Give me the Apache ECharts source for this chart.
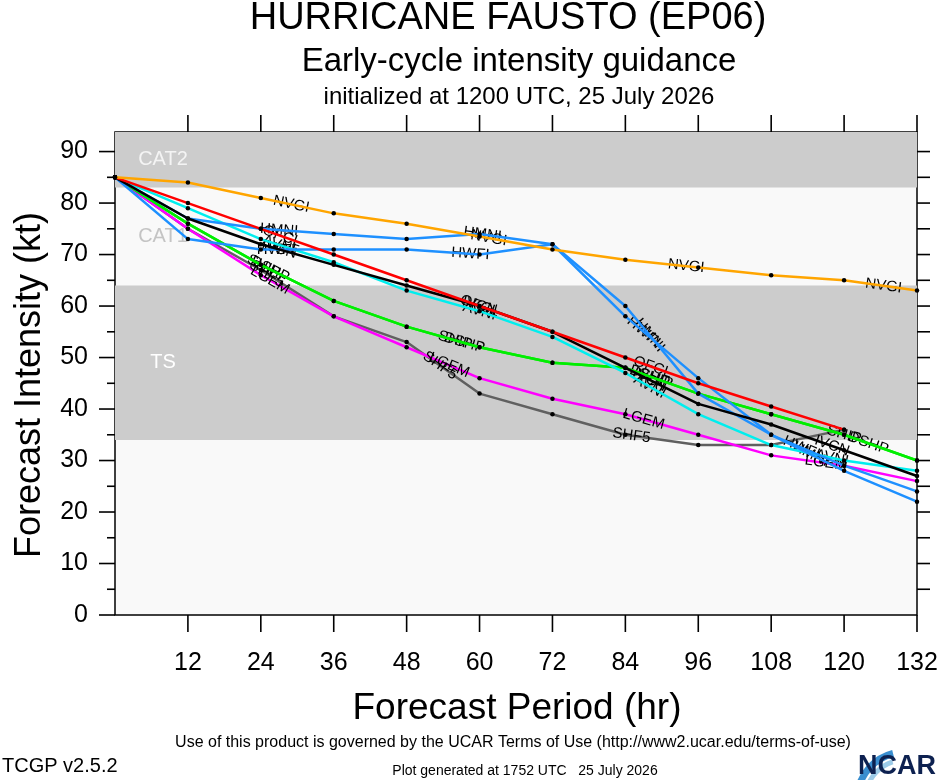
<!DOCTYPE html>
<html>
<head>
<meta charset="utf-8">
<script src="https://cdn.jsdelivr.net/npm/echarts@6/dist/echarts.min.js"></script>
<style>
html,body{margin:0;padding:0;background:#fff;}
#c{width:940px;height:780px;}
</style>
</head>
<body>
<div id="c"></div>
<script>
// ---- data ----
const hours = [0, 12, 24, 36, 48, 60, 72, 84, 96, 108, 120, 132];
const xTickValues = [12, 24, 36, 48, 60, 72, 84, 96, 108, 120, 132];
const yTickValues = [0, 10, 20, 30, 40, 50, 60, 70, 80, 90];
const yMinorValues = [5, 15, 25, 35, 45, 55, 65, 75, 85];
const NVGI = [85, 84, 81, 78, 76, 73.5, 71, 69, 67.5, 66, 65, 63];
const OFCL = [85, 80, 75, 70, 65, 60, 55, 50, 45, 40.5, 36, null];
const IVCN = [85, 77, 72, 68, 64, 60, 55, 48, 41, 37, 32, 27];
const AVNI = [85, 79, 73, 68.5, 63, 59, 54, 47, 39, 33, 30, 28];
const HWFI = [85, 73, 71, 71, 71, 70, 72, 58, 46, 35, 29, 24];
const HMNI = [85, 77, 75, 74, 73, 74, 72, 60, 43, 35, 28, 22];
const DSHP = [85, 76, 68, 61, 56, 52, 49, 48, 43, 39, 35, 30];
const SHIP = [85, 76, 68, 61, 56, 52, 49, 48, 43, 39, 35, 30];
const LGEM = [85, 75, 66, 58, 52, 46, 42, 39, 35, 31, 29, 26];
const SHF5 = [85, 75, 67, 58, 53, 43, 39, 35, 33, 33, 36, null];
const bands = [
  {from: 34, to: 64, name: 'TS', fill: '#cccccc', text: '#ffffff'},
  {from: 64, to: 83, name: 'CAT1', fill: 'rgba(0,0,0,0)', text: '#c4c4c4'},
  {from: 83, to: 'top', name: 'CAT2', fill: '#cccccc', text: '#f4f4f4'}
];

// ---- styling / layout ----
const YMAX = 93.8;
const FONT = '"Liberation Sans", Arial, sans-serif';
const models = [
  {name: 'SHF5', data: SHF5, color: '#606060', labelAt: [25, 53.5, 85]},
  {name: 'LGEM', data: LGEM, color: '#ff00ff', labelAt: [25.5, 55, 87, 117]},
  {name: 'SHIP', data: SHIP, color: '#00ee00', labelAt: [24.5, 56, 89, 120]},
  {name: 'DSHP', data: DSHP, color: '#00ee00', labelAt: [25.5, 57.5, 88, 124]},
  {name: 'AVNI', data: AVNI, color: '#00eeee', labelAt: [27, 60, 88, 118]},
  {name: 'HWFI', data: HWFI, color: '#1e90ff', labelAt: [26.5, 58.5, 87, 113]},
  {name: 'HMNI', data: HMNI, color: '#1e90ff', labelAt: [27, 60.5, 88, 114.5]},
  {name: 'IVCN', data: IVCN, color: '#000000', labelAt: [27, 60, 88, 118]},
  {name: 'OFCL', data: OFCL, color: '#ff0000', labelAt: [27.5, 60, 88.5]},
  {name: 'NVGI', data: NVGI, color: '#ffa500', labelAt: [29, 61.5, 94, 126.5]}
];

const chart = echarts.init(document.getElementById('c'), null, {renderer: 'canvas'});

function pts(arr) {
  const out = [];
  arr.forEach((v, i) => { if (v !== null) out.push([hours[i], v]); });
  return out;
}

const series = models.map((m, idx) => {
  const s = {
    id: 's' + m.name,
    type: 'line',
    name: m.name,
    data: pts(m.data),
    xAxisIndex: 0,
    yAxisIndex: 0,
    symbol: 'circle',
    symbolSize: 4.5,
    showSymbol: true,
    itemStyle: {color: '#000'},
    lineStyle: {color: m.color, width: 2.5},
    z: 3 + idx,
    animation: false,
    silent: true
  };
  if (idx === 0) {
    s.markArea = {
      silent: true,
      z: 1,
      data: bands.map(b => [
        {yAxis: b.from, itemStyle: {color: b.fill},
         label: {show: true, formatter: b.name, position: [48, '50%'], align: 'center', verticalAlign: 'middle',
                 color: b.text, fontSize: 20, fontFamily: FONT}},
        {yAxis: b.to === 'top' ? YMAX : b.to}
      ])
    };
  }
  return s;
});

const texts = [
  {id: 't1', type: 'text', x: 508, y: 19, style: {text: 'HURRICANE FAUSTO (EP06)', font: '38px ' + FONT, fill: '#000', align: 'center', verticalAlign: 'middle'}},
  {id: 't2', type: 'text', x: 519, y: 62, style: {text: 'Early-cycle intensity guidance', font: '33px ' + FONT, fill: '#000', align: 'center', verticalAlign: 'middle'}},
  {id: 't3', type: 'text', x: 519, y: 97, style: {text: 'initialized at 1200 UTC, 25 July 2026', font: '24px ' + FONT, fill: '#000', align: 'center', verticalAlign: 'middle'}},
  {id: 't4', type: 'text', x: 30, y: 385, rotation: Math.PI / 2, style: {text: 'Forecast Intensity (kt)', font: '36px ' + FONT, fill: '#000', align: 'center', verticalAlign: 'middle'}},
  {id: 't5', type: 'text', x: 517, y: 709, style: {text: 'Forecast Period (hr)', font: '37px ' + FONT, fill: '#000', align: 'center', verticalAlign: 'middle'}},
  {id: 't6', type: 'text', x: 513, y: 743, style: {text: 'Use of this product is governed by the UCAR Terms of Use (http://www2.ucar.edu/terms-of-use)', font: '16px ' + FONT, fill: '#000', align: 'center', verticalAlign: 'middle'}},
  {id: 't7', type: 'text', x: 2, y: 766, style: {text: 'TCGP v2.5.2', font: '20px ' + FONT, fill: '#000', align: 'left', verticalAlign: 'middle'}},
  {id: 't8', type: 'text', x: 525, y: 771, style: {text: 'Plot generated at 1752 UTC   25 July 2026', font: '14px ' + FONT, fill: '#000', align: 'center', verticalAlign: 'middle'}},
  {id: 'a1', type: 'arc', shape: {cx: 905, cy: 800, r: 48, startAngle: Math.PI * 1.05, endAngle: Math.PI * 1.42}, style: {stroke: '#3a8fd0', lineWidth: 7, fill: null}},
  {id: 'a2', type: 'arc', shape: {cx: 905, cy: 800, r: 40, startAngle: Math.PI * 1.08, endAngle: Math.PI * 1.40}, style: {stroke: '#9ccbe8', lineWidth: 5, fill: null}},
  {id: 't9', type: 'text', x: 936, y: 767, style: {text: 'NCAR', font: 'bold 27px ' + FONT, fill: '#0d2150', align: 'right', verticalAlign: 'middle'}}
];

const option = {
  backgroundColor: '#ffffff',
  animation: false,
  grid: {left: 115, right: 23, top: 132, bottom: 165, show: true, backgroundColor: '#f9f9f9',
         borderColor: '#000', borderWidth: 1.5},
  xAxis: [{type: 'value', show: false, min: 0, max: 132, interval: 12}],
  yAxis: [{type: 'value', show: false, min: 0, max: YMAX, interval: 10}],
  series: series,
  graphic: {elements: texts}
};

chart.setOption(option);

// ---- axis furniture placed through the chart's own scales ----
const xPix = h => chart.convertToPixel({xAxisIndex: 0}, h);
const yPix = v => chart.convertToPixel({yAxisIndex: 0}, v);
const xStep = (xPix(132) - xPix(12)) / 120;
const yStep = (yPix(90) - yPix(10)) / 80;
const xLeft = xPix(12) - 12 * xStep;
const xRight = xPix(132);
const yBottom = yPix(10) - 10 * yStep;
const yTop = yPix(YMAX);
const hx = h => xLeft + h * xStep;
const vy = v => yBottom + v * yStep;
const furniture = [];
let fid = 0;
function bar(x, y, w, h) {
  // filled thin rectangle as a tick mark
  furniture.push({id: 'f' + (fid++), type: 'rect', silent: true, z: 100, zlevel: 3,
                  shape: {x: x, y: y, width: w, height: h}, style: {fill: '#000'}});
}
xTickValues.forEach(h => {
  const x = hx(h);
  bar(x - 0.8, yBottom, 1.6, 17);      // bottom, outward
  bar(x - 0.8, yTop - 17, 1.6, 17);    // top, outward
  furniture.push({id: 'f' + (fid++), type: 'text', silent: true, z: 100, zlevel: 3, x: x, y: yBottom + 48,
                  style: {text: String(h), font: '25px ' + FONT, fill: '#000', align: 'center', verticalAlign: 'middle'}});
});
yTickValues.forEach(v => {
  const y = vy(v);
  bar(xLeft - 16, y - 0.8, 16, 1.6);
  furniture.push({id: 'f' + (fid++), type: 'text', silent: true, z: 100, zlevel: 3, x: xLeft - 27, y: y,
                  style: {text: String(v), font: '25px ' + FONT, fill: '#000', align: 'right', verticalAlign: 'middle'}});
});
yMinorValues.forEach(v => bar(xLeft - 8, vy(v) - 0.8, 8, 1.6));
yTickValues.concat(yMinorValues).forEach(v => { if (v > 0) bar(xRight, vy(v) - 0.8, 13, 1.6); });

// ---- line labels placed along each model's polyline ----
function valueAt(arr, h) {
  const valid = pts(arr);
  for (let i = 0; i < valid.length - 1; i++) {
    const a = valid[i], b = valid[i + 1];
    if (h >= a[0] && h <= b[0]) {
      const t = (h - a[0]) / (b[0] - a[0]);
      return {v: a[1] + t * (b[1] - a[1]), a: a, b: b};
    }
  }
  return null;
}
const upd = models.map(m => {
  const data = [];
  m.labelAt.forEach(h => {
    const r = valueAt(m.data, h);
    if (!r) return;
    const dx = (r.b[0] - r.a[0]) * xStep;
    const dy = (r.b[1] - r.a[1]) * yStep;
    const ang = -Math.atan2(dy, dx) * 180 / Math.PI;
    data.push({coord: [h, r.v], label: {rotate: ang}});
  });
  return {
    id: 's' + m.name,
    markPoint: {
      silent: true,
      symbol: 'circle',
      symbolSize: 1,
      itemStyle: {color: 'rgba(0,0,0,0)'},
      label: {show: true, formatter: m.name, position: 'inside', color: '#000', fontSize: 15, fontFamily: FONT},
      data: data
    }
  };
});
chart.setOption({series: upd, graphic: {elements: texts.concat(furniture)}});
</script>
</body>
</html>
